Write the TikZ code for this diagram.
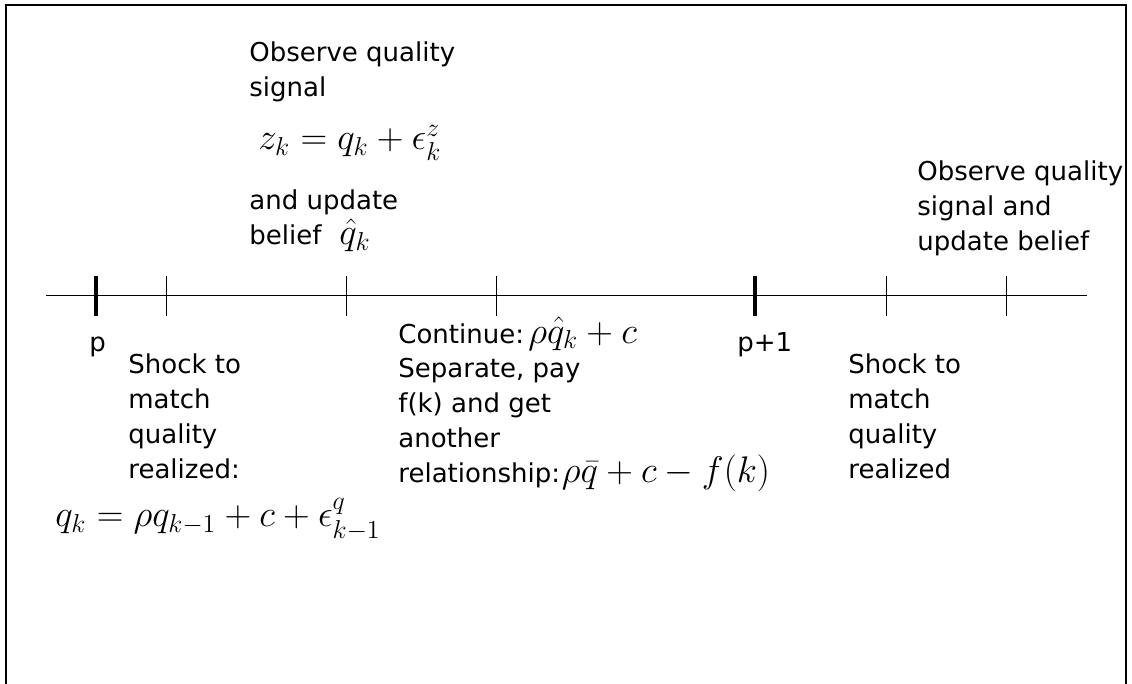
\RequirePackage{fix-cm}
\documentclass[tikz,border=0pt]{standalone}
\usepackage{fontspec}
\setmainfont{DejaVu Sans}
\usepackage{tikz}
\usepackage{amssymb}
\newcommand{\mathbig}[1]{{\fontsize{18.5}{18.5}\selectfont$#1$}}

\begin{document}
\begin{tikzpicture}[x=0.5pt,y=-0.5pt]
\tikzset{lbl/.style={anchor=base west,inner sep=0pt,align=left,font=\fontsize{13}{17.5}\selectfont},
  tick/.style={line width=0.5pt},
  bigtick/.style={line width=2pt}}

\useasboundingbox (0,0) rectangle (1132,684);
\draw[line width=0.7pt] (6,684) -- (6,5) -- (1126,5) -- (1126,684);

\coordinate (start) at (46,296);
\coordinate (end) at (1087,296);
\draw[line width=0.5pt] (start) -- (end);
\foreach \x in {166,346,496,886,1006} \draw[tick] (\x,276) -- (\x,316);
\foreach \x in {96,755} \draw[bigtick] (\x,276) -- (\x,316);

% labels above the line (base = last line)
\node[lbl] (obs) at (249,97) {Observe quality\\signal};
\node[lbl] (zeq) at (258,150) {\mathbig{z_k = q_k + \epsilon_k^z}};
\node[lbl] (upd) at (249,245) {and update\\belief\hspace{9pt}\mathbig{\hat{q}_k}};
\node[lbl] (obs2) at (917,251) {Observe quality\\signal and\\update belief};

% labels below the line
\node[lbl] (p) at (89,352) {p};
\node[lbl] (p1) at (737,352) {p+1};
\node[lbl] (shock) at (128,479) {Shock to\\match\\quality\\realized:};
\node[lbl] (qeq) at (55,527) {\mathbig{q_k = \rho q_{k-1} + c + \epsilon_{k-1}^q}};
\node[lbl] (cont) at (398,483) {Continue:\,\mathbig{\rho\hat{q}_k + c}\\Separate, pay\\f(k) and get\\another\\relationship:\hspace{1pt}\mathbig{\rho\bar{q} + c - f(k)}};
\node[lbl] (shock2) at (848,479) {Shock to\\match\\quality\\realized};
\end{tikzpicture}
\end{document}
